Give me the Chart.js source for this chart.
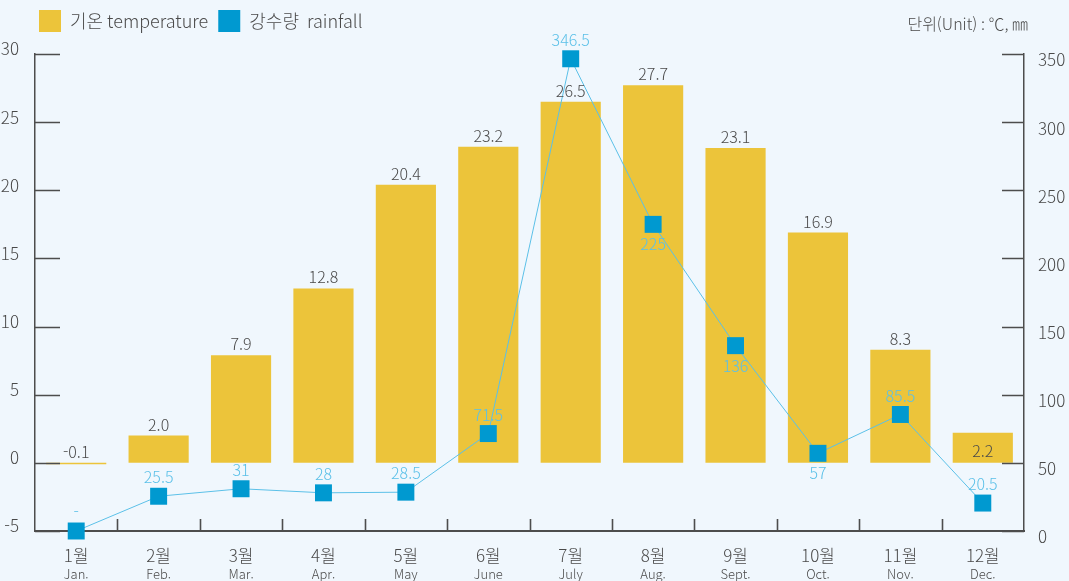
<!DOCTYPE html>
<html lang="ko">
<head>
<meta charset="utf-8">
<script src="https://cdn.jsdelivr.net/npm/chart.js@4.4.1/dist/chart.umd.min.js"></script>
<style>
    html, body { margin: 0; padding: 0; background: #f0f7fd; }
    #wrap { width: 1069px; height: 581px; position: relative; }
</style>
</head>
<body>
<div id="wrap"><canvas id="chart"></canvas></div>
<script>
const months = ['1월', '2월', '3월', '4월', '5월', '6월', '7월', '8월', '9월', '10월', '11월', '12월'];
const monthsEn = ['Jan.', 'Feb.', 'Mar.', 'Apr.', 'May', 'June', 'July', 'Aug.', 'Sept.', 'Oct.', 'Nov.', 'Dec.'];
const temperature = [-0.1, 2.0, 7.9, 12.8, 20.4, 23.2, 26.5, 27.7, 23.1, 16.9, 8.3, 2.2];
const rainfall = [0, 25.5, 31, 28, 28.5, 71.5, 346.5, 225, 136, 57, 85.5, 20.5];
const rainfallLabels = ['-', '25.5', '31', '28', '28.5', '71.5', '346.5', '225', '136', '57', '85.5', '20.5'];

const FONT = "'Noto Sans CJK KR', 'Noto Sans', sans-serif";
const TEXT = '#4a4a4a';
const AXIS = '#4d4d4d';
const BAR = '#ecc43a';
const MARKER = '#0099d0';
const LINE = '#5bc0e8';

// legend sits a bit further right and higher than chart.js puts it
const legendShift = {
    id: 'legendShift',
    afterLayout(chart) {
        chart.legend.left += 29;
        chart.legend.top -= 12;
    }
};

// ticks pointing into the plot, value labels, english month names, unit text
const decorations = {
    id: 'decorations',
    afterDatasetsDraw(chart, args, opts) {
        const { ctx, chartArea: area, scales } = chart;
        ctx.save();
        ctx.strokeStyle = AXIS;
        ctx.lineWidth = 1.6;
        ctx.beginPath();
        scales.y.ticks.forEach((t, i) => {
            const y = Math.round(scales.y.getPixelForTick(i)) + 0.5;
            ctx.moveTo(area.left, y);
            ctx.lineTo(area.left + 25, y);
        });
        scales.y1.ticks.forEach((t, i) => {
            const y = Math.round(scales.y1.getPixelForTick(i)) + 0.5;
            ctx.moveTo(area.right - 22, y);
            ctx.lineTo(area.right, y);
        });
        for (let i = 1; i < months.length; i++) {
            const x = Math.round((scales.x.getPixelForTick(i - 1) + scales.x.getPixelForTick(i)) / 2) + 0.5;
            ctx.moveTo(x, area.bottom);
            ctx.lineTo(x, area.bottom - 12);
        }
        ctx.stroke();

        ctx.font = '300 16px ' + FONT;
        ctx.textAlign = 'center';
        ctx.textBaseline = 'middle';

        ctx.fillStyle = TEXT;
        chart.getDatasetMeta(0).data.forEach((el, i) => {
            const inside = opts.tempInside.includes(i);
            const y = temperature[i] < 0 ? el.base - 11 : (inside ? el.y + 18 : el.y - 11);
            ctx.fillText(temperature[i].toFixed(1), el.x, y);
        });

        ctx.fillStyle = LINE;
        chart.getDatasetMeta(1).data.forEach((el, i) => {
            const below = opts.rainBelow.includes(i);
            ctx.fillText(rainfallLabels[i], el.x, below ? el.y + 20 : el.y - 19);
        });
        ctx.restore();
    },
    afterDraw(chart) {
        const { ctx, chartArea: area, scales } = chart;
        ctx.save();
        ctx.fillStyle = TEXT;
        ctx.textBaseline = 'middle';
        ctx.textAlign = 'center';
        ctx.font = '300 13px ' + FONT;
        monthsEn.forEach((m, i) => ctx.fillText(m, scales.x.getPixelForTick(i), area.bottom + 43));
        ctx.textAlign = 'right';
        ctx.font = '300 16px ' + FONT;
        ctx.fillText('단위(Unit) : ℃, ㎜', 1028, 24);
        ctx.restore();
    }
};

new Chart(document.getElementById('chart'), {
    data: {
        labels: months,
        datasets: [
            {
                type: 'bar',
                label: '기온 temperature',
                data: temperature,
                backgroundColor: BAR,
                borderWidth: 0,
                barPercentage: 0.73,
                categoryPercentage: 1,
                yAxisID: 'y',
                order: 2,
            },
            {
                type: 'line',
                label: '강수량  rainfall',
                data: rainfall,
                borderColor: LINE,
                borderWidth: 1,
                backgroundColor: MARKER,
                pointStyle: 'rect',
                pointRadius: 12,
                pointBorderWidth: 0,
                pointBackgroundColor: MARKER,
                fill: false,
                tension: 0,
                clip: false,
                yAxisID: 'y1',
                order: 1,
            },
        ],
    },
    options: {
        responsive: true,
        maintainAspectRatio: false,
        animation: false,
        layout: { padding: { left: 0, top: 12, right: 0, bottom: 0 } },
        plugins: {
            legend: {
                display: true,
                position: 'top',
                align: 'start',
                labels: {
                    boxWidth: 22,
                    boxHeight: 22,
                    padding: 10,
                    color: TEXT,
                    font: { family: FONT, size: 18, weight: '300' },
                    sort: (a, b) => a.datasetIndex - b.datasetIndex,
                    generateLabels(chart) {
                        const items = Chart.defaults.plugins.legend.labels.generateLabels(chart);
                        items.forEach((it) => {
                            it.strokeStyle = it.fillStyle;
                            it.lineWidth = 0;
                        });
                        return items;
                    },
                },
            },
            tooltip: { enabled: false },
            decorations: {
                tempInside: [11],
                rainBelow: [7, 8, 9],
            },
        },
        scales: {
            x: {
                offset: true,
                grid: { display: false },
                border: { display: true, color: AXIS, width: 2 },
                ticks: {
                    color: TEXT,
                    font: { family: FONT, size: 17, weight: '300' },
                    padding: 6,
                    maxRotation: 0,
                },
                afterFit: (s) => { s.height = 50; },
            },
            y: {
                position: 'left',
                min: -5,
                max: 30,
                grid: { display: false },
                border: { display: true, color: AXIS, width: 1.5 },
                ticks: {
                    stepSize: 5,
                    color: TEXT,
                    font: { family: FONT, size: 17, weight: '300' },
                    padding: 8,
                    labelOffset: -5,
                },
                afterFit: (s) => { s.width = 35; },
            },
            y1: {
                position: 'right',
                min: 0,
                max: 350,
                grid: { display: false },
                border: { display: true, color: AXIS, width: 1.5 },
                ticks: {
                    stepSize: 50,
                    color: TEXT,
                    font: { family: FONT, size: 17, weight: '300' },
                    padding: 6,
                    labelOffset: 6,
                },
                afterFit: (s) => { s.width = 45; },
            },
        },
    },
    plugins: [legendShift, decorations],
});
</script>
</body>
</html>
